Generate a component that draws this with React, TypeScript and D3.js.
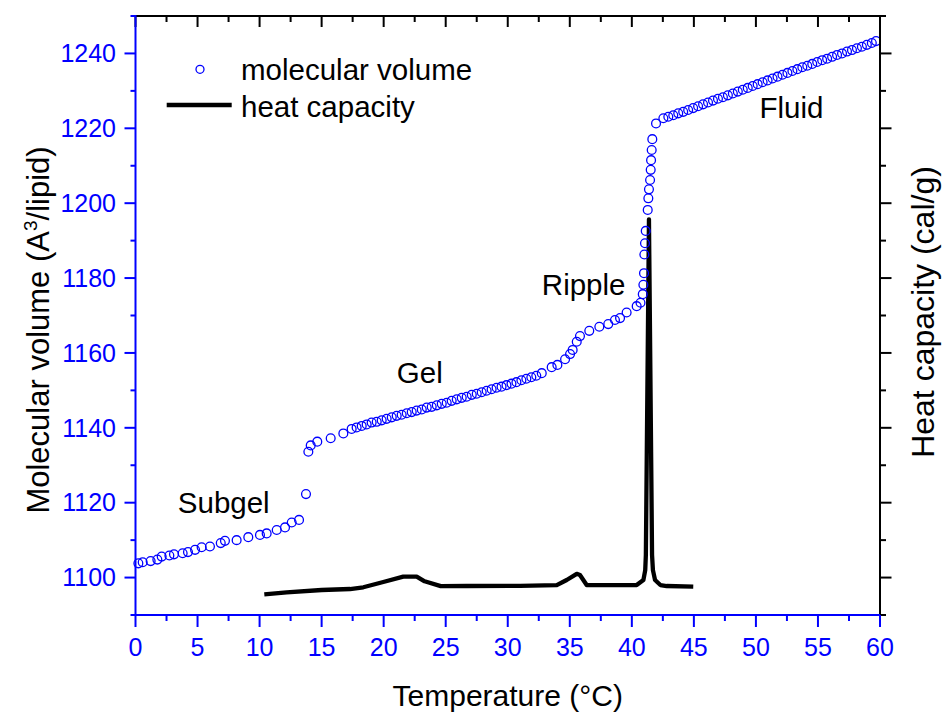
import React from "react";
import * as d3 from "d3";

// Molecular volume (blue open circles)
const volTemp = [
  0.23, 0.58, 1.22, 1.76, 2.11, 2.73, 3.1, 3.8, 4.23, 4.8, 5.33, 6.0, 6.87, 7.21, 8.15, 9.09, 10.03, 10.57, 11.38, 12.05, 12.59, 13.18, 13.74,
  13.93, 14.12, 14.65, 15.73, 16.75, 17.42, 17.82, 18.23, 18.63, 19.03, 19.44, 19.84, 20.24, 20.65, 21.05, 21.45, 21.86, 22.26, 22.66, 23.07,
  23.47, 23.87, 24.28, 24.68, 25.08, 25.48, 25.89, 26.29, 26.69, 27.1, 27.5, 27.9, 28.3, 28.7, 29.1, 29.5, 29.9, 30.3, 30.7, 31.1, 31.5, 31.9,
  32.3, 32.74, 33.54, 34.0, 34.62, 35.02, 35.23, 35.56, 35.82, 36.57, 37.38, 38.1, 38.64, 39.05, 39.58, 40.39, 40.7, 40.88, 40.93, 40.98,
  41.01, 41.06, 41.12, 41.28, 41.33, 41.38, 41.47, 41.52, 41.55, 41.6, 41.65, 41.95, 42.54,
  42.94, 43.34, 43.74, 44.14, 44.54, 44.94, 45.34, 45.74, 46.14, 46.54, 46.94, 47.34, 47.74, 48.14, 48.54, 48.94, 49.34, 49.74, 50.14,
  50.54, 50.94, 51.34, 51.74, 52.14, 52.54, 52.94, 53.34, 53.74, 54.14, 54.54, 54.94, 55.34, 55.74, 56.14, 56.54, 56.94, 57.34, 57.74,
  58.14, 58.54, 58.94, 59.34, 59.68,
];
const volValue = [
  1103.8, 1104.1, 1104.4, 1104.8, 1105.6, 1105.9, 1106.2, 1106.5, 1106.8, 1107.4, 1108.1, 1108.3, 1109.2, 1109.8, 1110.0, 1110.8, 1111.4,
  1111.8, 1112.7, 1113.4, 1114.7, 1115.4, 1122.3,
  1133.6, 1135.3, 1136.3, 1137.2, 1138.5, 1139.7, 1140.1, 1140.5, 1140.9, 1141.4, 1141.6, 1142.0, 1142.4, 1142.8, 1143.2, 1143.5, 1143.9,
  1144.2, 1144.6, 1144.9, 1145.4, 1145.6, 1146.0, 1146.4, 1146.7, 1147.2, 1147.6, 1148.0, 1148.3, 1148.8, 1149.1, 1149.5, 1149.9, 1150.3,
  1150.7, 1151.0, 1151.4, 1151.8, 1152.2, 1152.7, 1153.1, 1153.5, 1153.9, 1154.6, 1156.2, 1156.8, 1158.3, 1159.7, 1160.8, 1163.0, 1164.5,
  1165.9, 1167.0, 1167.7, 1168.8, 1169.3, 1170.8, 1172.5, 1173.4, 1175.7, 1178.2, 1181.3, 1186.3, 1189.3, 1192.6, 1198.2, 1201.3, 1203.7,
  1206.2, 1208.9, 1211.5, 1214.2, 1217.1, 1221.3, 1222.7,
  1223.1, 1223.5, 1224.0, 1224.4, 1224.9, 1225.4, 1225.9, 1226.4, 1226.9, 1227.4, 1227.9, 1228.3, 1228.8, 1229.3, 1229.8, 1230.3, 1230.8,
  1231.3, 1231.8, 1232.3, 1232.8, 1233.3, 1233.8, 1234.3, 1234.8, 1235.3, 1235.8, 1236.3, 1236.7, 1237.2, 1237.7, 1238.2, 1238.6, 1239.1,
  1239.6, 1240.0, 1240.5, 1240.9, 1241.4, 1241.8, 1242.3, 1242.8, 1243.3,
];

// Heat capacity (black line, right axis, arbitrary units)
const cpTemp = [
  10.38, 12.18, 15.0, 17.29, 18.36, 19.97, 21.58, 22.66, 23.3, 24.6, 26.69, 30.99, 33.95, 34.75, 35.56, 35.82, 36.36, 40.39, 40.93, 41.08,
  41.13, 41.38, 41.63, 41.7, 41.87, 42.3, 42.81, 44.95,
];
const cpValue = [
  0.276, 0.303, 0.334, 0.347, 0.37, 0.441, 0.512, 0.512, 0.45, 0.385, 0.387, 0.39, 0.4, 0.467, 0.55, 0.534, 0.4, 0.4, 0.467, 0.6, 0.8,
  5.285, 0.8, 0.6, 0.467, 0.4, 0.387, 0.378,
];

const xMajorTicks = [0, 5, 10, 15, 20, 25, 30, 35, 40, 45, 50, 55, 60];
const xMinorTicks = [2.5, 7.5, 12.5, 17.5, 22.5, 27.5, 32.5, 37.5, 42.5, 47.5, 52.5, 57.5];
const yMajorTicks = [1100, 1120, 1140, 1160, 1180, 1200, 1220, 1240];
const yMinorTicks = [1090, 1110, 1130, 1150, 1170, 1190, 1210, 1230, 1250];
const cpMajorTicks = [0.5, 1.5, 2.5, 3.5, 4.5, 5.5, 6.5, 7.5];
const cpMinorTicks = [0, 1, 2, 3, 4, 5, 6, 7, 8];

const phaseLabels = ["Subgel", "Gel", "Ripple", "Fluid"];
const phaseTemp = [3.41, 21.06, 32.75, 50.29];
const phaseVol = [1117.2, 1152.1, 1175.5, 1222.7];

const W = 943;
const H = 715;
const left = 135.5;
const right = 880;
const top = 16;
const bottom = 615;
const BLUE = "#0000ff";
const FONT = "'Liberation Sans', Arial, Helvetica, sans-serif";

export default function App() {
  const x = d3.scaleLinear().domain([0, 60]).range([left, right]);
  const yL = d3.scaleLinear().domain([1090, 1250]).range([bottom, top]);
  const yR = d3.scaleLinear().domain([0, 8]).range([bottom, top]);

  const cpData = cpTemp.map((t, i) => [t, cpValue[i]] as [number, number]);
  const line = d3
    .line<[number, number]>()
    .x((d) => x(d[0]))
    .y((d) => yR(d[1]));

  const tickFont = 25;
  const bigFont = 29.5;

  return (
    <svg
      width={W}
      height={H}
      style={{ position: "absolute", left: 0, top: 0, display: "block", background: "#fff" }}
      fontFamily={FONT}
    >
      <rect x={0} y={0} width={W} height={H} fill="#fff" />
      {/* heat capacity */}
      <path d={line(cpData) || ""} fill="none" stroke="#000" strokeWidth={4.3} strokeLinejoin="round" strokeLinecap="butt" />
      {/* molecular volume */}
      {volTemp.map((t, i) => (
        <circle key={i} cx={x(t)} cy={yL(volValue[i])} r={4.4} fill="none" stroke={BLUE} strokeWidth={1.3} />
      ))}

      {/* top axis (black, ticks inward) */}
      <line x1={left} x2={right} y1={top} y2={top} stroke="#000" strokeWidth={2} />
      {xMajorTicks.map((t) => (
        <line key={"tM" + t} x1={x(t)} x2={x(t)} y1={top} y2={top + 11} stroke="#000" strokeWidth={2} />
      ))}
      {xMinorTicks.map((t) => (
        <line key={"tm" + t} x1={x(t)} x2={x(t)} y1={top} y2={top + 6} stroke="#000" strokeWidth={2} />
      ))}

      {/* right axis (black, ticks outward) */}
      <line x1={right} x2={right} y1={top - 1} y2={bottom + 1} stroke="#000" strokeWidth={2} />
      {cpMajorTicks.map((t) => (
        <line key={"rM" + t} x1={right} x2={right + 11.5} y1={yR(t)} y2={yR(t)} stroke="#000" strokeWidth={2} />
      ))}
      {cpMinorTicks.map((t) => (
        <line key={"rm" + t} x1={right} x2={right + 6} y1={yR(t)} y2={yR(t)} stroke="#000" strokeWidth={2} />
      ))}

      {/* bottom axis (blue) */}
      <line x1={left - 1} x2={right} y1={bottom} y2={bottom} stroke={BLUE} strokeWidth={2} />
      {xMajorTicks.map((t) => (
        <line key={"bM" + t} x1={x(t)} x2={x(t)} y1={bottom} y2={bottom + 12} stroke={BLUE} strokeWidth={2} />
      ))}
      {xMinorTicks.map((t) => (
        <line key={"bm" + t} x1={x(t)} x2={x(t)} y1={bottom} y2={bottom + 6} stroke={BLUE} strokeWidth={2} />
      ))}
      {xMajorTicks.map((t) => (
        <text key={"bl" + t} x={x(t)} y={655.5} fontSize={tickFont} fill={BLUE} textAnchor="middle">
          {t}
        </text>
      ))}

      {/* left axis (blue) */}
      <line x1={left} x2={left} y1={top - 1} y2={bottom + 1} stroke={BLUE} strokeWidth={2} />
      {yMajorTicks.map((t) => (
        <line key={"lM" + t} x1={left - 11} x2={left} y1={yL(t)} y2={yL(t)} stroke={BLUE} strokeWidth={2} />
      ))}
      {yMinorTicks.map((t) => (
        <line key={"lm" + t} x1={left - 5} x2={left} y1={yL(t)} y2={yL(t)} stroke={BLUE} strokeWidth={2} />
      ))}
      {yMajorTicks.map((t) => (
        <text key={"ll" + t} x={116} y={yL(t) + 8.8} fontSize={tickFont} fill={BLUE} textAnchor="end">
          {t}
        </text>
      ))}

      {/* axis titles */}
      <text x={(left + right) / 2} y={706} fontSize={30} fill="#000" textAnchor="middle">
        Temperature (°C)
      </text>
      <text transform={`translate(49,330) rotate(-90)`} fontSize={31} fill="#000" textAnchor="middle">
        Molecular volume (A
        <tspan fontSize={19} dy={-12}>
          3
        </tspan>
        <tspan dy={12}>/lipid)</tspan>
      </text>
      <text transform={`translate(934,312) rotate(-90)`} fontSize={32} fill="#000" textAnchor="middle">
        Heat capacity (cal/g)
      </text>

      {/* legend */}
      <circle cx={200} cy={69.3} r={4} fill="none" stroke={BLUE} strokeWidth={1.3} />
      <text x={241} y={80} fontSize={bigFont} fill="#000">
        molecular volume
      </text>
      <line x1={166.7} x2={231.7} y1={105} y2={105} stroke="#000" strokeWidth={4.3} />
      <text x={241} y={116.7} fontSize={bigFont} fill="#000">
        heat capacity
      </text>

      {/* phase labels */}
      {phaseLabels.map((s, i) => (
        <text key={s} x={x(phaseTemp[i])} y={yL(phaseVol[i])} fontSize={bigFont} fill="#000">
          {s}
        </text>
      ))}
    </svg>
  );
}
